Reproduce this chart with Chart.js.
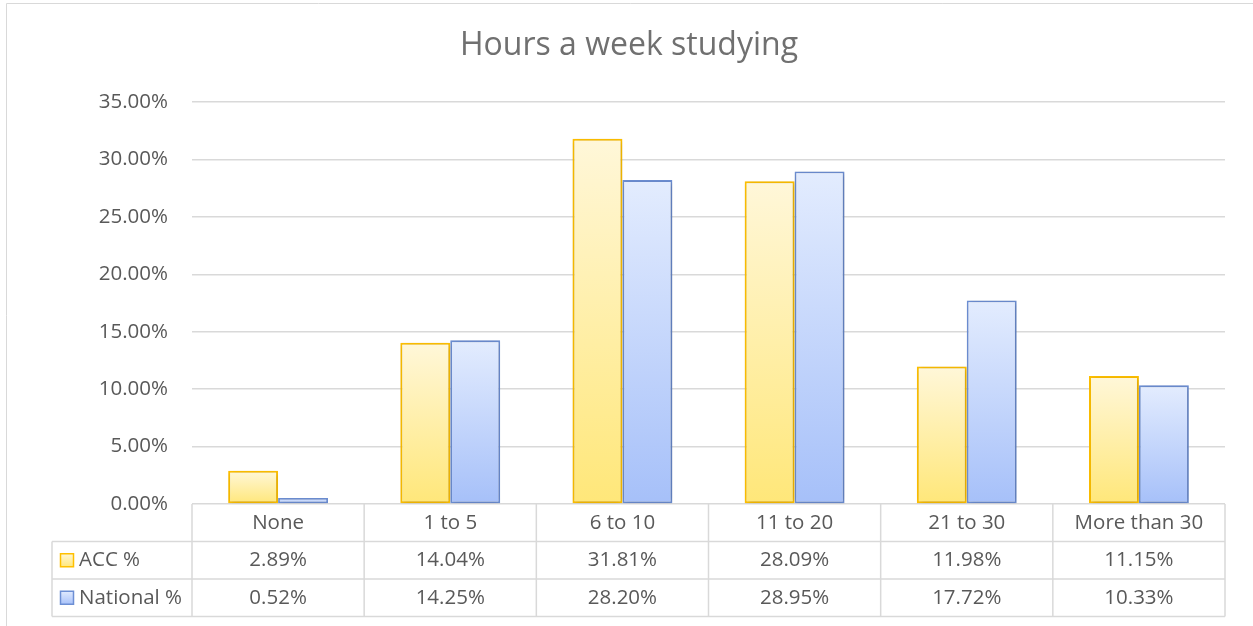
<!DOCTYPE html>
<html>
<head>
<meta charset="utf-8">
<title>Hours a week studying</title>
<script src="https://cdn.jsdelivr.net/npm/chart.js@4/dist/chart.umd.min.js"></script>
<style>
  html, body { margin: 0; padding: 0; background: #fff; }
  #wrap { width: 1253px; height: 626px; position: relative; }
</style>
</head>
<body>
<div id="wrap"><canvas id="studyChart"></canvas></div>
<script>
// Chart data
const chartTitle = 'Hours a week studying';
const categories = ['None', '1 to 5', '6 to 10', '11 to 20', '21 to 30', 'More than 30'];
const seriesNames = ['ACC %', 'National %'];
const accValues = [2.89, 14.04, 31.81, 28.09, 11.98, 11.15];
const nationalValues = [0.52, 14.25, 28.20, 28.95, 17.72, 10.33];
const yTicks = [0, 5, 10, 15, 20, 25, 30, 35];

const FONT = '"Open Sans", Lato, sans-serif';
const TEXT = '#595959';
const GRID = '#d9d9d9';
const LABEL_SIZE = 20.5;

const palette = [
    { top: '#fff7d9', bottom: '#ffe779', border: '#ffc000', width: 2 },
    { top: '#e3ecfe', bottom: '#a6c0f9', border: '#6d8fd4', width: 1.8 }
];

function barGradient(i) {
    return function(ctx) {
        const chart = ctx.chart;
        if (!chart.chartArea || ctx.type !== 'data') return palette[i].bottom;
        const y = chart.scales.y;
        const top = y.getPixelForValue(ctx.raw);
        const bottom = y.getPixelForValue(0);
        const g = chart.ctx.createLinearGradient(0, top, 0, Math.max(bottom, top + 1));
        g.addColorStop(0, palette[i].top);
        g.addColorStop(1, palette[i].bottom);
        return g;
    };
}

// frame, title, shadows and the data table under the plot
const tablePlugin = {
    id: 'excelTable',
    beforeDatasetsDraw(chart) {
        const c = chart.ctx;
        c.save();
        c.shadowColor = 'rgba(0,0,0,0.22)';
        c.shadowBlur = 5;
        c.shadowOffsetX = 1;
        c.shadowOffsetY = 1;
    },
    afterDatasetsDraw(chart) {
        chart.ctx.restore();
    },
    afterDraw(chart) {
        const c = chart.ctx;
        const area = chart.chartArea;
        const x = chart.scales.x;
        const rowH = 37.5;
        const tableLeft = 52;
        const half = (x.getPixelForValue(1) - x.getPixelForValue(0)) / 2;
        c.save();

        // outer frame
        c.strokeStyle = GRID;
        c.lineWidth = 1;
        c.beginPath();
        c.moveTo(6.5, chart.height + 2);
        c.lineTo(6.5, 3.5);
        c.lineTo(chart.width + 2, 3.5);
        c.stroke();

        // title
        c.fillStyle = '#707070';
        c.font = '32px ' + FONT;
        c.textAlign = 'center';
        c.textBaseline = 'middle';
        c.fillText(chartTitle, 629, 46);

        // table grid
        const top = area.bottom;
        const r1 = top + rowH, r2 = top + rowH * 2, r3 = top + rowH * 3;
        c.strokeStyle = GRID;
        c.lineWidth = 1.5;
        c.beginPath();
        [r1, r2, r3].forEach(y => { c.moveTo(tableLeft, y); c.lineTo(area.right, y); });
        c.moveTo(tableLeft, r1); c.lineTo(tableLeft, r3);
        for (let i = 0; i <= categories.length; i++) {
            const px = x.getPixelForValue(0) - half + i * half * 2;
            c.moveTo(px, top); c.lineTo(px, r3);
        }
        c.stroke();

        // text cells
        c.fillStyle = TEXT;
        c.font = LABEL_SIZE + 'px ' + FONT;
        c.textAlign = 'center';
        categories.forEach((cat, i) => {
            const px = x.getPixelForValue(i);
            c.fillText(cat, px, top + rowH / 2);
            c.fillText(accValues[i].toFixed(2) + '%', px, r1 + rowH / 2);
            c.fillText(nationalValues[i].toFixed(2) + '%', px, r2 + rowH / 2);
        });

        // legend keys + series names
        [r1, r2].forEach((y, i) => {
            const cy = y + rowH / 2;
            const g = c.createLinearGradient(0, cy - 7, 0, cy + 7);
            g.addColorStop(0, palette[i].top);
            g.addColorStop(1, palette[i].bottom);
            c.fillStyle = g;
            c.fillRect(60.5, cy - 6.5, 13, 13);
            c.strokeStyle = palette[i].border;
            c.lineWidth = 1.5;
            c.strokeRect(60.5, cy - 6.5, 13, 13);
            c.fillStyle = TEXT;
            c.textAlign = 'left';
            c.fillText(seriesNames[i], 79, cy);
        });
        c.restore();
    }
};

const ctx = document.getElementById('studyChart');
new Chart(ctx, {
    type: 'bar',
    data: {
        labels: categories,
        datasets: [
            {
                label: seriesNames[0],
                data: accValues,
                backgroundColor: barGradient(0),
                borderColor: palette[0].border,
                borderWidth: palette[0].width,
                borderSkipped: false
            },
            {
                label: seriesNames[1],
                data: nationalValues,
                backgroundColor: barGradient(1),
                borderColor: palette[1].border,
                borderWidth: palette[1].width,
                borderSkipped: false
            }
        ]
    },
    options: {
        responsive: true,
        maintainAspectRatio: false,
        animation: false,
        datasets: {
            bar: { categoryPercentage: 0.58, barPercentage: 1 }
        },
        layout: {
            padding: { top: 102, right: 28, bottom: 122, left: 0 }
        },
        plugins: {
            legend: { display: false },
            title: { display: false },
            tooltip: { enabled: false }
        },
        scales: {
            x: { display: false },
            y: {
                min: yTicks[0],
                max: yTicks[yTicks.length - 1],
                afterFit: function(scale) { scale.width = 192; },
                afterBuildTicks: function(scale) {
                    scale.ticks = yTicks.map(v => ({ value: v }));
                },
                ticks: {
                    padding: 24,
                    color: TEXT,
                    font: { family: FONT, size: LABEL_SIZE },
                    callback: function(value) { return value.toFixed(2) + '%'; }
                },
                grid: { color: GRID, lineWidth: 1.5, drawTicks: false },
                border: { display: false }
            }
        }
    },
    plugins: [tablePlugin]
});
</script>
</body>
</html>
